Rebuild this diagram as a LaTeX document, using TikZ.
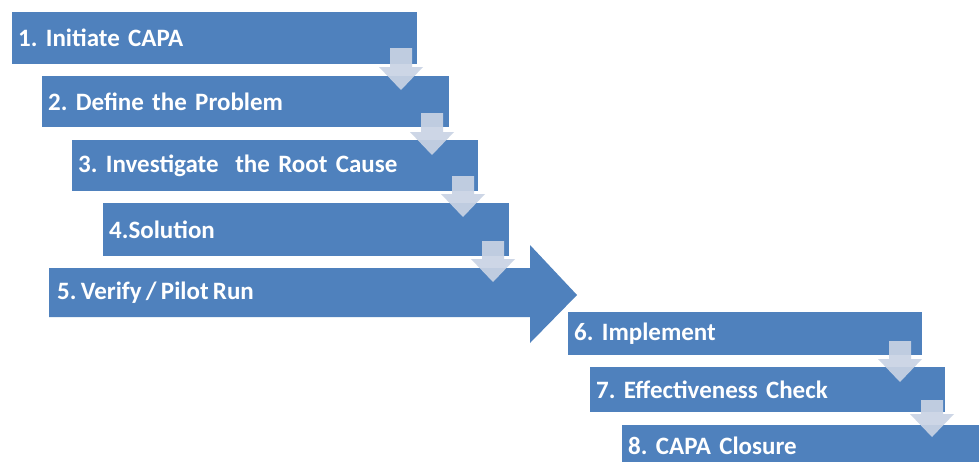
\documentclass[tikz,border=0pt]{standalone}
\usepackage{fontspec}
\setmainfont{Carlito}[WordSpace=0.75]
\usetikzlibrary{calc}
\definecolor{boxblue}{HTML}{4F81BD}
\definecolor{arrowfill}{HTML}{C9D3E4}
\tikzset{
  box/.style={fill=boxblue, draw=none, anchor=north west, inner ysep=0pt, inner xsep=6pt,
    text=white, align=left, font=\fontsize{25}{28}\selectfont\bfseries\frenchspacing},
  lbl/.style={text=white, anchor=west, inner sep=0pt, font=\fontsize{25}{28}\selectfont\bfseries\frenchspacing},
  pics/darrow/.style={code={
    \fill[arrowfill, fill opacity=0.92] (-11,-#1) -- (11,-#1) -- (11,-23) -- (22,-23) -- (0,0)
      -- (-22,-23) -- (-11,-23) -- cycle;}}
}
\begin{document}
\begin{tikzpicture}[x=1pt,y=-1pt]
\useasboundingbox (0,0) rectangle (979,461);
\fill[white] (0,0) rectangle (979,461);
\clip (0,0) rectangle (979,461);
% boxes
\node[box, text width=393pt, minimum height=52pt] (b1) at (12,12) {1. Initiate CAPA};
\node[box, text width=395pt, minimum height=51pt] (b2) at (42,76) {2. Define the Problem};
\node[box, text width=394pt, minimum height=51pt] (b3) at (72,140) {3. Investigate\ \ the Root Cause};
\node[box, text width=394pt, minimum height=53pt] (b4) at (103,203) {4.Solution};
% big arrow
\fill[boxblue] (49,268) coordinate (s1) -- (530,268) -- (530,245) -- (577,295) coordinate (tip5)
  -- (530,343) -- (530,317) -- (49,317) -- cycle;
\node[lbl] (b5) at (57,293) {5. Verify / Pilot Run};
\node[box, text width=342pt, minimum height=43pt] (b6) at (568,312) {6. Implement};
\node[box, text width=343pt, minimum height=45pt] (b7) at (590,367) {7. Effectiveness Check};
\node[box, text width=400pt, minimum height=42pt] (b8) at (622,425) {8. CAPA Closure};
% small arrows
\pic at (401,90) {darrow=42};
\pic at (432,155) {darrow=42};
\pic at (463,217) {darrow=41};
\pic at (493,282) {darrow=41};
\pic at (900,382) {darrow=41};
\pic at (932,437) {darrow=37};
\end{tikzpicture}
\end{document}
